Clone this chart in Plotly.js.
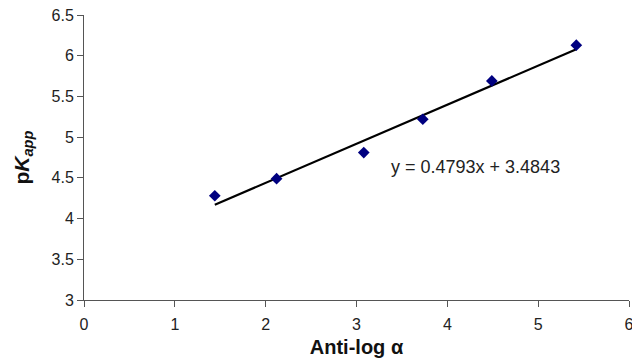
<!DOCTYPE html>
<html>
<head>
<meta charset="utf-8">
<script src="https://cdn.plot.ly/plotly-3.0.1.min.js"></script>
<style>html,body{margin:0;padding:0;background:#fff;}#chart{width:632px;height:358px;}</style>
</head>
<body>
<div id="chart"></div>
<script>
// Data
const antiLogAlpha = [1.44, 2.12, 3.08, 3.73, 4.49, 5.42];
const pKapp = [4.28, 4.49, 4.81, 5.22, 5.69, 6.13];
const trendX = [1.44, 5.42];
const trendY = [4.17, 6.08];
const equationText = "y = 0.4793x + 3.4843";
const xTicks = [0, 1, 2, 3, 4, 5, 6];
const yTicks = [3, 3.5, 4, 4.5, 5, 5.5, 6, 6.5];
const yTickLabels = ["3", "3.5", "4", "4.5", "5", "5.5", "6", "6.5"];

const font = "Liberation Sans, Arial, sans-serif";

const traces = [
  {
    x: trendX, y: trendY, type: "scatter", mode: "lines",
    line: {color: "#000000", width: 2.2}, hoverinfo: "skip"
  },
  {
    x: antiLogAlpha, y: pKapp, type: "scatter", mode: "markers",
    marker: {symbol: "diamond", size: 9, color: "#000080", line: {width: 0}}
  }
];

const layout = {
  width: 632, height: 358,
  margin: {l: 84, r: 3, t: 15, b: 58},
  paper_bgcolor: "#ffffff", plot_bgcolor: "#ffffff",
  showlegend: false,
  font: {family: font, size: 15, color: "#222222"},
  xaxis: {
    range: [0, 6], tickvals: xTicks, ticktext: xTicks.map(String),
    showgrid: false, zeroline: false,
    showline: true, linecolor: "#555555", linewidth: 1,
    ticks: "outside", ticklen: 6, tickcolor: "#555555", tickwidth: 1,
    ticklabeloverflow: "allow", ticklabelstandoff: 4,
    tickfont: {family: font, size: 16, color: "#222222"},
    title: {text: "<b>Anti-log α</b>", font: {family: font, size: 20, color: "#111111"}, standoff: 10}
  },
  yaxis: {
    range: [3, 6.5], tickvals: yTicks, ticktext: yTickLabels,
    showgrid: false, zeroline: false,
    showline: true, linecolor: "#555555", linewidth: 1,
    ticks: "outside", ticklen: 6, tickcolor: "#555555", tickwidth: 1,
    ticklabeloverflow: "allow",
    tickfont: {family: font, size: 16, color: "#222222"},
    title: {text: "<b>p<i>K</i><sub><i>app</i></sub></b>", font: {family: font, size: 21, color: "#111111"}, standoff: 16}
  },
  annotations: [{
    x: 3.36, y: 4.63, xref: "x", yref: "y", xanchor: "left", yanchor: "middle",
    text: equationText, showarrow: false,
    font: {family: font, size: 18, color: "#222222"}
  }]
};

Plotly.newPlot("chart", traces, layout, {displayModeBar: false, staticPlot: true});
</script>
</body>
</html>
